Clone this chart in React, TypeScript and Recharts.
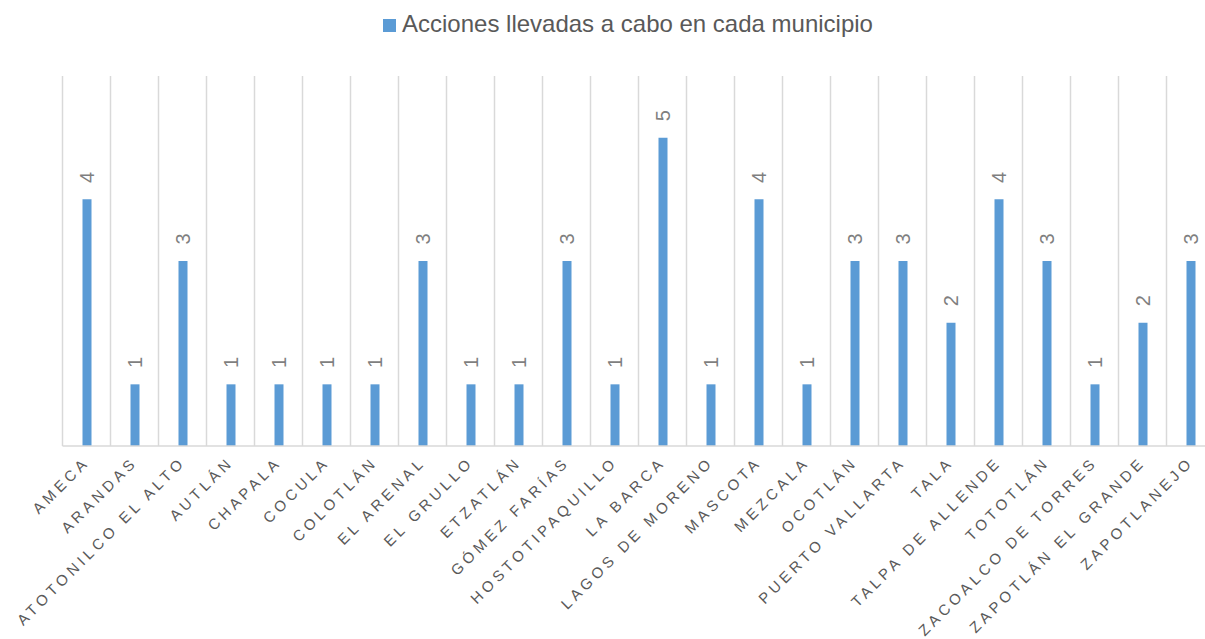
import { Bar, BarChart, CartesianGrid, LabelList, Legend, XAxis, YAxis } from "recharts";

const BLUE = "#5B9BD5";
const GRID = "#D9D9D9";
const FONT = '"Liberation Sans", Arial, sans-serif';

const MUNICIPIOS = [
  "AMECA",
  "ARANDAS",
  "ATOTONILCO EL ALTO",
  "AUTLÁN",
  "CHAPALA",
  "COCULA",
  "COLOTLÁN",
  "EL ARENAL",
  "EL GRULLO",
  "ETZATLÁN",
  "GÓMEZ FARÍAS",
  "HOSTOTIPAQUILLO",
  "LA BARCA",
  "LAGOS DE MORENO",
  "MASCOTA",
  "MEZCALA",
  "OCOTLÁN",
  "PUERTO VALLARTA",
  "TALA",
  "TALPA DE ALLENDE",
  "TOTOTLÁN",
  "ZACOALCO DE TORRES",
  "ZAPOTLÁN EL GRANDE",
  "ZAPOTLANEJO",
];
const ACCIONES = [4, 1, 3, 1, 1, 1, 1, 3, 1, 1, 3, 1, 5, 1, 4, 1, 3, 3, 2, 4, 3, 1, 2, 3];
const SERIE = "Acciones llevadas a cabo en cada municipio";

const data = MUNICIPIOS.map((m, i) => ({ municipio: m, acciones: ACCIONES[i] }));

function MunicipioTick({ x, y, payload }: any) {
  return (
    <g transform={`translate(${x + 4},${y + 17})`}>
      <text
        textAnchor="end"
        transform="rotate(-45)"
        fontSize={15}
        letterSpacing={4}
        fill="#595959"
        fontFamily={FONT}
      >
        {payload.value}
      </text>
    </g>
  );
}

function ValorLabel({ x, y, width, value }: any) {
  return (
    <text
      transform={`translate(${x + width / 2 + 7},${y - 22}) rotate(-90)`}
      textAnchor="middle"
      fontSize={20}
      fill="#7F7F7F"
      fontFamily={FONT}
    >
      {value}
    </text>
  );
}

function Leyenda() {
  return (
    <div style={{ position: "relative", width: 1205, height: 36 }}>
      <div
        style={{ position: "absolute", left: 383, top: 11, width: 13, height: 13, background: BLUE }}
      />
      <span
        style={{
          position: "absolute",
          left: 402,
          top: 4,
          fontSize: 24,
          lineHeight: "24px",
          whiteSpace: "nowrap",
          color: "#595959",
          fontFamily: FONT,
        }}
      >
        {SERIE}
      </span>
    </div>
  );
}

export default function App() {
  const n = MUNICIPIOS.length;
  return (
    <div
      style={{
        position: "absolute",
        left: 0,
        top: 0,
        width: 1205,
        height: 639,
        overflow: "hidden",
        background: "#fff",
      }}
    >
      <BarChart
        width={1240}
        height={639}
        data={data}
        margin={{ top: 76, right: 25.5, left: 62.5, bottom: 163 }}
      >
        <CartesianGrid
          horizontal={false}
          stroke={GRID}
          strokeWidth={1.5}
          verticalCoordinatesGenerator={({ offset }: any) =>
            Array.from({ length: n + 1 }, (_, i) => offset.left + (i * offset.width) / n)
          }
        />
        <XAxis
          dataKey="municipio"
          interval={0}
          height={30}
          tick={<MunicipioTick />}
          tickLine={false}
          tickSize={0}
          tickMargin={0}
          axisLine={{ stroke: GRID, strokeWidth: 1.5 }}
        />
        <YAxis hide domain={[0, 6]} />
        <Legend
          layout="horizontal"
          verticalAlign="middle"
          wrapperStyle={{ top: 8, left: 0 }}
          content={<Leyenda />}
        />
        <Bar dataKey="acciones" name={SERIE} fill={BLUE} barSize={9} isAnimationActive={false}>
          <LabelList dataKey="acciones" content={<ValorLabel />} />
        </Bar>
      </BarChart>
    </div>
  );
}
